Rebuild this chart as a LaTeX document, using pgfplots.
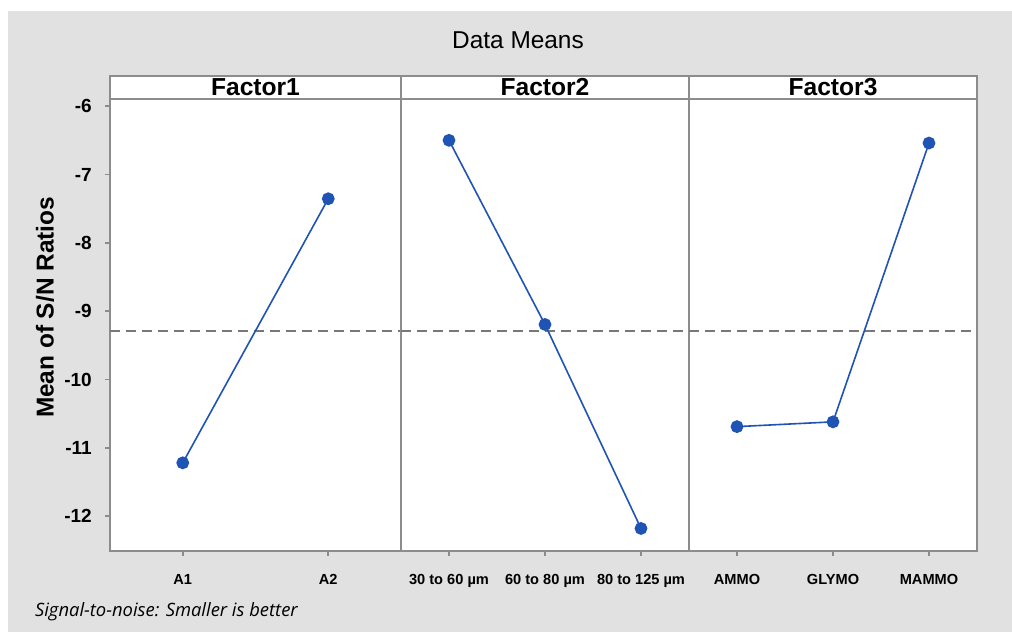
\documentclass[border=0pt]{standalone}
\usepackage{pgfplots}
\pgfplotsset{compat=1.18}
\usepackage{fontspec}
\setmainfont{Liberation Sans}
\newfontfamily\notefont{Open Sans}
\definecolor{bg}{RGB}{225,225,225}
\definecolor{frame}{RGB}{140,140,140}
\definecolor{dashgray}{RGB}{120,120,120}
\definecolor{lineblue}{RGB}{31,84,181}

\tikzset{
  series/.style={lineblue, line width=0.8pt, mark=*, mark size=2.8pt, mark options={solid, fill=lineblue, draw=lineblue}},
  meanline/.style={dashgray, line width=0.8pt, dash pattern=on 5pt off 3pt},
  header/.style={draw=frame, line width=0.8pt, fill=white, minimum width=#1, minimum height=11.15pt, inner sep=0pt, anchor=south, font=\bfseries\fontsize{12.3}{13}\selectfont},
}
\pgfplotsset{
  panel/.style={
    scale only axis, height=225.85pt, ymin=-12.51, ymax=-5.9,
    axis line style={frame, line width=0.8pt},
    major tick style={frame, line width=0.8pt},
    major tick length=2.6pt, tick align=outside,
    xtick pos=bottom, ytick pos=left,
    axis background/.style={fill=white},
    clip=false,
    xticklabel style={font=\bfseries\fontsize{7.3}{8}\selectfont, yshift=-4.5pt, text height=6pt},
    yticklabel style={font=\bfseries\fontsize{9.5}{10}\selectfont, xshift=-3pt},
    anchor=south west,
  },
}

\begin{document}
\begin{tikzpicture}
\fill[white] (0,0) rectangle (506pt,-316pt);
\fill[bg] (4pt,-5.5pt) rectangle (506pt,-316pt);

\node at (259pt,-20pt) {\fontsize{12.2}{14}\selectfont Data Means};
\node[rotate=90] at (22.5pt,-153.75pt) {\bfseries\fontsize{12.2}{14}\selectfont Mean of S/N Ratios};
\node[anchor=west] at (14pt,-306pt) {\notefont\itshape\fontsize{9.2}{11}\selectfont Signal-to-noise: Smaller is better};

% Factor1
\begin{axis}[panel, at={(55pt,-275.5pt)}, width=145.5pt,
  xmin=-0.5, xmax=1.5, xtick={0,1}, xticklabels={A1,A2},
  ytick={-12,-11,-10,-9,-8,-7,-6}, yticklabels={-12,-11,-10,-9,-8,-7,-6}]
\addplot[meanline] coordinates {(-0.5,-9.29) (1.5,-9.29)};
\addplot[series] coordinates {(0,-11.22) (1,-7.355)};
\node[header=145.5pt] at (rel axis cs:0.5,1) {Factor1};
\end{axis}

% Factor2
\begin{axis}[panel, at={(200.5pt,-275.5pt)}, width=144pt,
  xmin=-0.5, xmax=2.5, xtick={0,1,2}, xticklabels={30 to 60 µm,60 to 80 µm,80 to 125 µm},
  ytick=\empty]
\addplot[meanline] coordinates {(-0.5,-9.29) (2.5,-9.29)};
\addplot[series] coordinates {(0,-6.50) (1,-9.195) (2,-12.18)};
\node[header=144pt] at (rel axis cs:0.5,1) {Factor2};
\end{axis}

% Factor3
\begin{axis}[panel, at={(344.5pt,-275.5pt)}, width=144pt,
  xmin=-0.5, xmax=2.5, xtick={0,1,2}, xticklabels={AMMO,GLYMO,MAMMO},
  ytick=\empty]
\addplot[meanline] coordinates {(-0.5,-9.29) (2.5,-9.29)};
\addplot[series] coordinates {(0,-10.69) (1,-10.62) (2,-6.54)};
\node[header=144pt] at (rel axis cs:0.5,1) {Factor3};
\end{axis}

\pgfresetboundingbox
\useasboundingbox (0,0) rectangle (506pt,-316pt);
\end{tikzpicture}
\end{document}
